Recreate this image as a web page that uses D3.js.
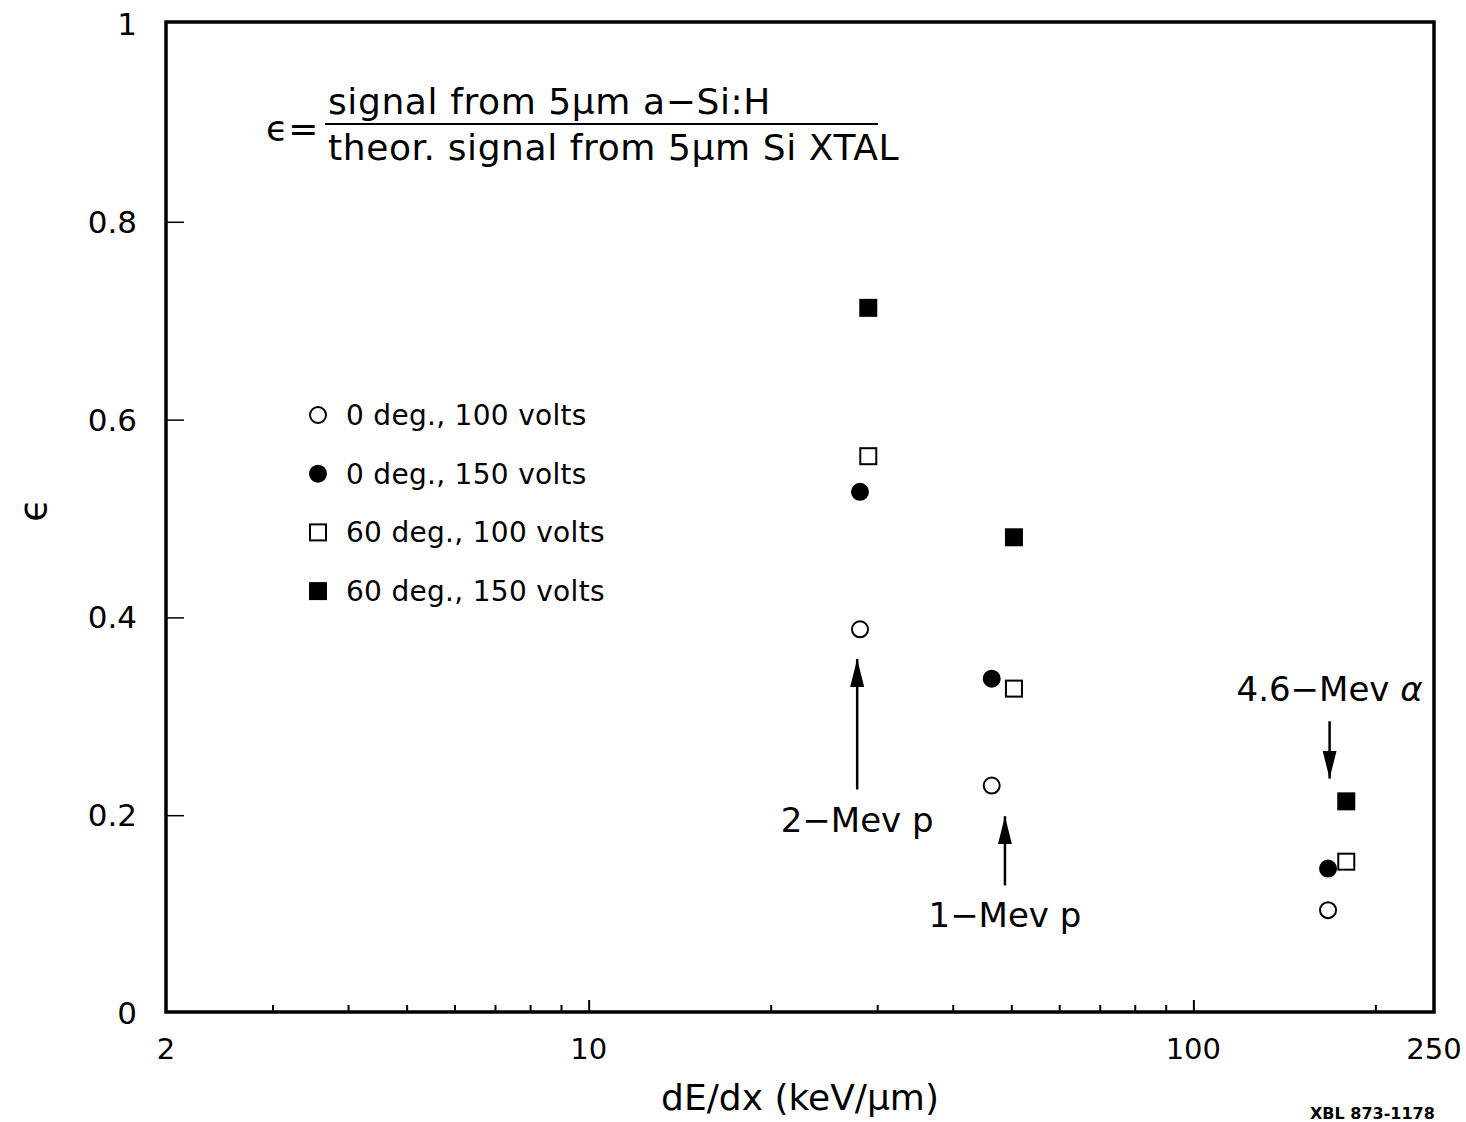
<!DOCTYPE html>
<html>
<head>
<meta charset="utf-8">
<script src="https://cdn.jsdelivr.net/npm/d3@7"></script>
<style>
  body { margin: 0; background: #fff; }
  text { font-family: "DejaVu Sans", "Liberation Sans", sans-serif; fill: #000; }
</style>
</head>
<body>
<div id="chart"></div>
<script>
// data
const seriesNames = ['0 deg., 100 volts', '0 deg., 150 volts', '60 deg., 100 volts', '60 deg., 150 volts'];
const seriesShapes = ['openCircle', 'filledCircle', 'openSquare', 'filledSquare'];
// dE/dx for each series, one per beam (2-MeV p, 1-MeV p, 4.6-MeV alpha)
const xCircles = [28.1, 46.4, 167];
const xSquares = [29.0, 50.5, 179];
const eps0deg100 = [0.388, 0.230, 0.104];
const eps0deg150 = [0.527, 0.338, 0.146];
const eps60deg100 = [0.563, 0.328, 0.153];
const eps60deg150 = [0.713, 0.481, 0.214];

const xTickLabels = [2, 10, 100, 250];
const xMinorTicks = [3, 4, 5, 6, 7, 8, 9, 20, 30, 40, 50, 60, 70, 80, 90, 200];
const yTickValues = [0, 0.2, 0.4, 0.6, 0.8, 1];

// beam labels with arrows
const beamLabels = [
  { text: '2\u2212Mev p', x: 27.8, y0: 0.226, y1: 0.358, ty: 0.183 },
  { text: '1\u2212Mev p', x: 48.8, y0: 0.129, y1: 0.199, ty: 0.087 },
  { text: '4.6\u2212Mev ', x: 168, y0: 0.295, y1: 0.237, ty: 0.315, greek: '\u03b1' }
];

const W = 1466, H = 1122;
const margin = { top: 24, right: 32, bottom: 109, left: 166 };

const x = d3.scaleLog().domain([2, 250]).range([margin.left, W - margin.right]);
const y = d3.scaleLinear().domain([0, 1]).range([H - margin.bottom, margin.top]);

const svg = d3.select('#chart').append('svg')
  .attr('width', W).attr('height', H);

const series = [
  { xs: xCircles, ys: eps0deg100 },
  { xs: xCircles, ys: eps0deg150 },
  { xs: xSquares, ys: eps60deg100 },
  { xs: xSquares, ys: eps60deg150 }
];

// ticks
svg.append('g')
  .attr('transform', `translate(0,${y(0)})`)
  .call(d3.axisTop(x).tickValues([10, 100]).tickSize(13).tickFormat(''))
  .call(g => g.select('.domain').remove())
  .call(g => g.selectAll('line').attr('stroke-width', 2));

svg.append('g')
  .attr('transform', `translate(0,${y(0)})`)
  .call(d3.axisTop(x).tickValues(xMinorTicks).tickSize(8).tickFormat(''))
  .call(g => g.select('.domain').remove())
  .call(g => g.selectAll('line').attr('stroke-width', 2));

svg.append('g')
  .attr('transform', `translate(${x(2)},0)`)
  .call(d3.axisRight(y).tickValues(yTickValues.slice(1, -1)).tickSize(18).tickFormat(''))
  .call(g => g.select('.domain').remove())
  .call(g => g.selectAll('line').attr('stroke-width', 1.5));

// frame
svg.append('rect')
  .attr('x', x(2)).attr('y', y(1) - 2)
  .attr('width', x(250) - x(2)).attr('height', y(0) - y(1) + 1)
  .attr('fill', 'none').attr('stroke', '#000').attr('stroke-width', 3.5);

// tick labels
svg.append('g').selectAll('text')
  .data(xTickLabels).join('text')
  .attr('x', d => x(d)).attr('y', y(0) + 46)
  .attr('text-anchor', 'middle')
  .attr('font-size', 29)
  .text(d => d);

svg.append('g').selectAll('text')
  .data(yTickValues).join('text')
  .attr('x', 137).attr('y', d => y(d) + 11)
  .attr('text-anchor', 'end')
  .attr('font-size', 31)
  .text(d => d === 0 || d === 1 ? d : d.toFixed(1));

// axis titles
svg.append('text')
  .attr('x', 800).attr('y', 1110)
  .attr('text-anchor', 'middle')
  .attr('font-size', 36)
  .text('dE/dx (keV/\u03bcm)');

svg.append('text')
  .attr('transform', 'translate(46,510) rotate(-90)')
  .attr('text-anchor', 'middle')
  .attr('font-size', 38)
  .text('\u03f5');

// formula
const f = svg.append('g');
f.append('text').attr('x', 266).attr('y', 141).attr('font-size', 36).text('\u03f5=');
f.append('text').attr('x', 328).attr('y', 114).attr('font-size', 36)
  .attr('letter-spacing', 0.6).text('signal from 5\u03bcm a\u2212Si:H');
f.append('line').attr('x1', 325).attr('x2', 878).attr('y1', 124).attr('y2', 124)
  .attr('stroke', '#000').attr('stroke-width', 2);
f.append('text').attr('x', 328).attr('y', 160).attr('font-size', 36)
  .attr('letter-spacing', 0.6).text('theor. signal from 5\u03bcm Si XTAL');

// markers
function drawMarker(g, shape, cx, cy) {
  if (shape.endsWith('Circle')) {
    g.append('circle').attr('cx', cx).attr('cy', cy).attr('r', 8)
      .attr('fill', shape === 'filledCircle' ? '#000' : '#fff')
      .attr('stroke', '#000').attr('stroke-width', 2);
  } else {
    g.append('rect').attr('x', cx - 8).attr('y', cy - 8).attr('width', 16).attr('height', 16)
      .attr('fill', shape === 'filledSquare' ? '#000' : '#fff')
      .attr('stroke', '#000').attr('stroke-width', 2);
  }
}

const pts = svg.append('g');
series.forEach((s, i) => {
  s.xs.forEach((xv, j) => drawMarker(pts, seriesShapes[i], x(xv), y(s.ys[j])));
});

// legend
const legend = svg.append('g');
seriesNames.forEach((name, i) => {
  const ly = 415 + i * 58.7;
  drawMarker(legend, seriesShapes[i], 318, ly);
  legend.append('text').attr('x', 346).attr('y', ly + 10)
    .attr('font-size', 28).attr('letter-spacing', 0.3).text(name);
});

// arrow annotations
svg.append('defs').append('marker')
  .attr('id', 'head').attr('viewBox', '0 0 28 14')
  .attr('refX', 28).attr('refY', 7)
  .attr('markerWidth', 28).attr('markerHeight', 14)
  .attr('markerUnits', 'userSpaceOnUse')
  .attr('orient', 'auto')
  .append('path').attr('d', 'M0,0L28,7L0,14Z').attr('fill', '#000');

const ann = svg.append('g');
beamLabels.forEach(b => {
  ann.append('line')
    .attr('x1', x(b.x)).attr('x2', x(b.x))
    .attr('y1', y(b.y0)).attr('y2', y(b.y1))
    .attr('stroke', '#000').attr('stroke-width', 2.5)
    .attr('marker-end', 'url(#head)');
  const t = ann.append('text')
    .attr('x', x(b.x)).attr('y', y(b.ty))
    .attr('text-anchor', 'middle')
    .attr('font-size', 34)
    .text(b.text);
  if (b.greek) t.append('tspan').attr('font-style', 'italic').text(b.greek);
});

// plate number at the bottom edge
svg.append('text')
  .attr('x', 1310).attr('y', 1119)
  .attr('font-size', 16).attr('font-weight', 'bold')
  .text('XBL 873-1178');
</script>
</body>
</html>
